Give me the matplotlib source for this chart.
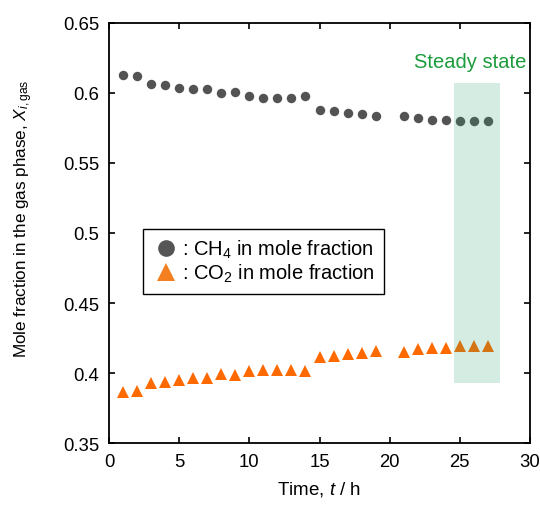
import matplotlib
matplotlib.use("Agg")
import matplotlib.pyplot as plt
from matplotlib.lines import Line2D
from matplotlib.patches import Rectangle

plt.rcParams['font.family'] = ['Liberation Sans', 'DejaVu Sans']
plt.rcParams['mathtext.fontset'] = 'custom'
plt.rcParams['mathtext.rm'] = 'Liberation Sans'
plt.rcParams['mathtext.it'] = 'Liberation Sans:italic'

# time on stream (h)
time_h = [1, 2, 3, 4, 5, 6, 7, 8, 9, 10, 11, 12, 13, 14,
          15, 16, 17, 18, 19, 21, 22, 23, 24, 25, 26, 27]
# mole fractions
ch4 = [0.613, 0.612, 0.6065, 0.6057, 0.6038, 0.6029, 0.603, 0.5998, 0.601, 0.598,
       0.5967, 0.5967, 0.5967, 0.598, 0.5879, 0.587, 0.586, 0.585, 0.5838,
       0.5838, 0.582, 0.581, 0.581, 0.580, 0.580, 0.580]
co2 = [0.3866, 0.3874, 0.3926, 0.3933, 0.3952, 0.3964, 0.3964, 0.3993, 0.3986, 0.4012,
       0.4024, 0.4024, 0.4024, 0.4012, 0.4112, 0.4124, 0.4136, 0.4145, 0.4155,
       0.415, 0.4174, 0.418, 0.418, 0.4195, 0.4195, 0.4195]
steady = (24.6, 27.85, 0.393, 0.607)

fig = plt.figure(figsize=(5.4, 5.06), dpi=100)
ax = fig.add_axes([0.2019, 0.1225, 0.7796, 0.8301])

ax.plot(time_h, ch4, 'o', color='#535353', markersize=6.8, markeredgewidth=0)
ax.plot(time_h, co2, '^', color='#ff6a00', markersize=8.5, markeredgewidth=0)

# steady state region drawn over the markers
ax.add_patch(Rectangle((steady[0], steady[2]), steady[1] - steady[0], steady[3] - steady[2],
                       facecolor='#28a06e', alpha=0.2, edgecolor='none', zorder=3))
ax.text(29.75, 0.6222, 'Steady state', color='#1c9c3c', fontsize=14.5,
        ha='right', va='center')

ax.set_xlim(0, 30)
ax.set_ylim(0.35, 0.65)
ax.set_xticks([0, 5, 10, 15, 20, 25, 30])
ax.set_xticklabels(['0', '5', '10', '15', '20', '25', '30'])
ax.set_yticks([0.35, 0.4, 0.45, 0.5, 0.55, 0.6, 0.65])
ax.set_yticklabels(['0.35', '0.4', '0.45', '0.5', '0.55', '0.6', '0.65'])
ax.tick_params(direction='in', length=4, width=1.2, top=True, right=True,
               labelsize=13.3, pad=7)
for s in ax.spines.values():
    s.set_linewidth(1.3)

ax.set_xlabel('Time, $t$ / h', fontsize=13.5, labelpad=7)
ax.set_ylabel(r'Mole fraction in the gas phase, $X_{i\mathrm{,gas}}$', fontsize=12.3)
ax.yaxis.set_label_coords(-0.175, 0.536)

handles = [Line2D([], [], ls='none', marker='o', color='#555555', markersize=12, markeredgewidth=0),
           Line2D([], [], ls='none', marker='^', color='#f47f20', markersize=13, markeredgewidth=0)]
labels = [': CH$_4$ in mole fraction', ': CO$_2$ in mole fraction']
leg = ax.legend(handles, labels, loc='upper left', bbox_to_anchor=(0.081, 0.51),
                fontsize=14.5, handlelength=1.4, handletextpad=0.1, fancybox=False,
                framealpha=1, edgecolor='black', borderpad=0.45, labelspacing=0.1,
                borderaxespad=0)
leg.get_frame().set_linewidth(1.0)

fig.savefig('out.png', dpi=100)
